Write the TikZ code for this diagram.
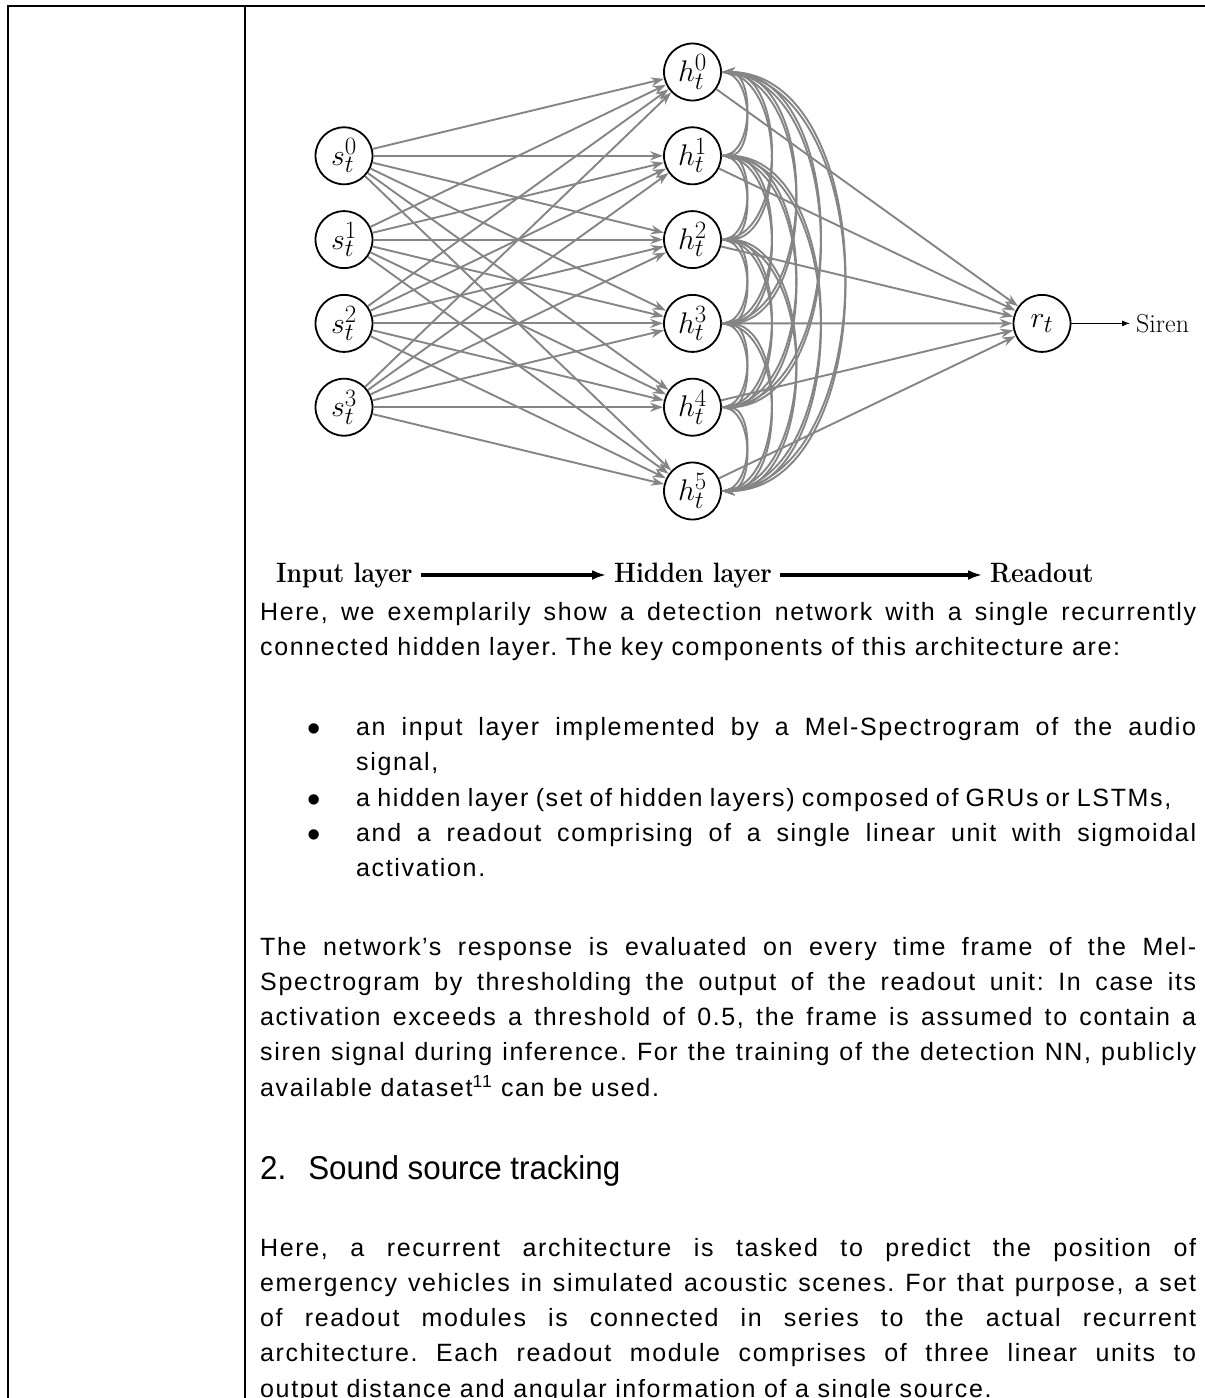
\documentclass[tikz,border=0pt]{standalone}
\usepackage{fontspec}
\usepackage{graphicx}
\usetikzlibrary{arrows.meta}
\newfontfamily\bodyfont{Liberation Sans}[LetterSpace=6.6]
\newfontfamily\headfont{Liberation Sans}[FakeStretch=0.95]
\definecolor{edgegray}{HTML}{858585}
\hyphenpenalty=10000
\exhyphenpenalty=10000
\frenchspacing
\newcommand{\itemdot}{\leavevmode\llap{\raisebox{-6pt}{\fontsize{38}{38}\selectfont\textbullet}\hspace{35pt}}}
\newcommand{\unit}[1]{\scalebox{1.2}{$#1$}}

\begin{document}
\begin{tikzpicture}[x=1pt, y=-1pt,
        neuron/.style={circle, draw=black, line width=1.8pt, minimum size=57pt, inner sep=0pt, font=\fontsize{24.88}{30}\selectfont},
        synapse/.style={draw=edgegray, line width=1.9pt, -{Stealth[length=13pt,width=9pt]}},
        layerlabel/.style={anchor=base west, inner sep=8pt, text height=14pt, text depth=0pt, font=\fontsize{28}{30}\selectfont\bfseries},
        bodyline/.style={anchor=base west, inner sep=0pt, font=\fontsize{25}{35.3}\selectfont\bodyfont},
        bodytext/.style={bodyline, text width=936pt, align=justify}]
        \useasboundingbox (0,0) rectangle (1205,1398);
        % table rules
        \draw[line width=2pt] (8,1398) -- (8,6) -- (1205,6);
        \draw[line width=2pt] (245,6) -- (245,1398);
        % neurons
        \foreach \j in {0,...,3}
            \node[neuron] (s\j) at (344, {155.8+83.8*\j}) {\unit{s_t^{\j}}};
        \foreach \i in {0,...,5}
            \node[neuron] (h\i) at (692.5, {72+83.8*\i}) {\unit{h_t^{\i}}};
        \node[neuron] (r) at (1042, 323.4) {\unit{r_t}};
        \node[anchor=west, inner sep=6pt, font=\fontsize{26}{30}\selectfont] (siren) at (1130, 323.4) {Siren};
        % input to hidden
        \foreach \j in {0,...,3}
            \foreach \i in {0,...,5}
                \draw[synapse] (s\j) -- (h\i);
        % recurrent loops
        \foreach \i in {0,...,5}
            \foreach \k in {0,...,5}
                {\ifnum\i=\k\else \draw[synapse] (h\i) to[out=0, in=0] (h\k);\fi}
        % hidden to readout
        \foreach \i in {0,...,5}
            \draw[synapse] (h\i) -- (r);
        \draw[line width=1pt, -{Latex[length=8pt,width=6pt]}] (r) -- (siren);
        % layer labels
        \node[layerlabel] (inlayer) at (268, 582) {\scalebox{0.89}[1]{Input layer}};
        \node[layerlabel] (hidlayer) at (606, 582) {\scalebox{0.89}[1]{Hidden layer}};
        \node[layerlabel] (readlayer) at (982, 582) {\scalebox{0.89}[1]{Readout}};
        \draw[line width=3.2pt, -{Latex[length=14pt,width=10pt]}] (inlayer) -- (hidlayer);
        \draw[line width=3.2pt, -{Latex[length=14pt,width=10pt]}] (hidlayer) -- (readlayer);
        % text
        \node[bodytext] (intro) at (260, 620) {Here, we exemplarily show a detection network with a single recurrently\linebreak connected hidden layer. The key components of this architecture are:};
        \node[bodytext, text width=840pt] (item1) at (356, 735) {\itemdot an input layer implemented by a Mel-Spectrogram of the audio\linebreak signal,};
        \node[bodyline] (item2) at (356, 806) {\spaceskip=7.2pt\itemdot a hidden layer (set of hidden layers) composed of GRUs or LSTMs,};
        \node[bodytext, text width=840pt] (item3) at (356, 841) {\itemdot and a readout comprising of a single linear unit with sigmoidal\linebreak activation.};
        \node[bodytext] (response) at (260, 955) {The network’s response is evaluated on every time frame of the Mel-\linebreak Spectrogram by thresholding the output of the readout unit: In case its\linebreak activation exceeds a threshold of 0.5, the frame is assumed to contain a\linebreak siren signal during inference. For the training of the detection NN, publicly\linebreak available dataset\textsuperscript{11} can be used.};
        \node[anchor=base west, inner sep=0pt, font=\fontsize{33}{36}\selectfont\headfont] (tracking) at (260, 1179) {2.\hspace{22pt}Sound source tracking};
        \node[bodytext] (tracktext) at (260, 1256) {Here, a recurrent architecture is tasked to predict the position of\linebreak emergency vehicles in simulated acoustic scenes. For that purpose, a set\linebreak of readout modules is connected in series to the actual recurrent\linebreak architecture. Each readout module comprises of three linear units to\linebreak output distance and angular information of a single source.};
\end{tikzpicture}
\end{document}
